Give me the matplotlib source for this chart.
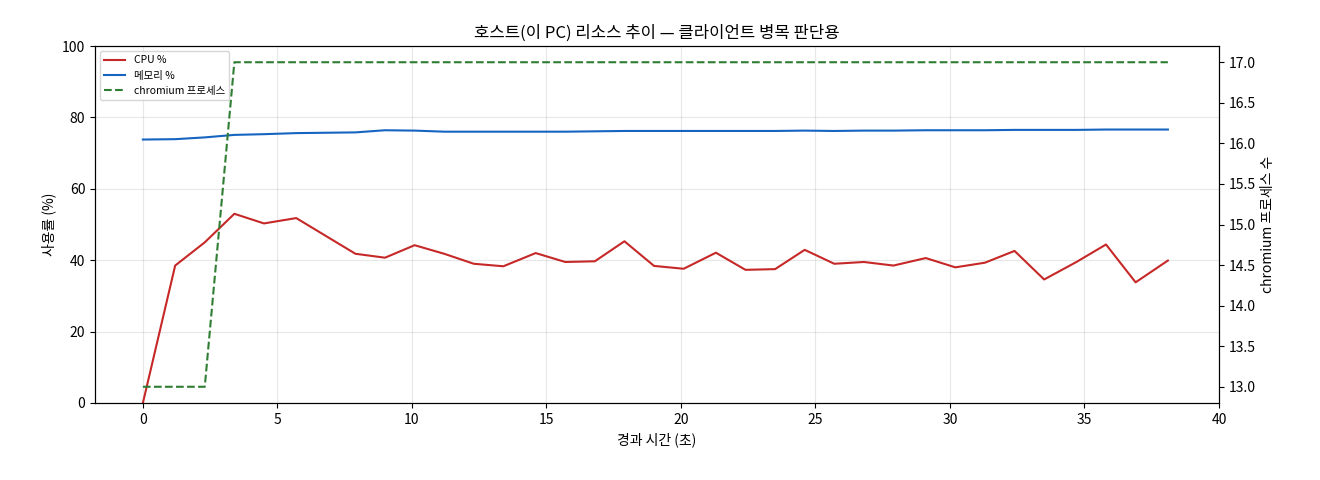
import matplotlib
matplotlib.use("Agg")
import matplotlib.pyplot as plt

plt.rcParams['font.family'] = ['Noto Sans CJK KR', 'DejaVu Sans']

t = [0, 1.2, 2.3, 3.4, 4.5, 5.7, 6.8, 7.9, 9.0, 10.1, 11.2, 12.3, 13.4, 14.6, 15.7, 16.8, 17.9,
     19.0, 20.1, 21.3, 22.4, 23.5, 24.6, 25.7, 26.8, 27.9, 29.1, 30.2, 31.3, 32.4, 33.5,
     34.7, 35.8, 36.9, 38.1]
cpu = [0, 38.5, 45, 53, 50.3, 51.8, 46.8, 41.8, 40.7, 44.2, 41.8, 39, 38.3, 42, 39.5, 39.7, 45.3,
       38.4, 37.6, 42.1, 37.3, 37.5, 42.9, 39, 39.5, 38.5, 40.6, 38, 39.3, 42.6, 34.6,
       39.5, 44.4, 33.8, 39.9]
mem = [73.8, 73.9, 74.4, 75.1, 75.3, 75.6, 75.7, 75.8, 76.4, 76.3, 76.0, 76.0, 76.0, 76.0, 76.0,
       76.1, 76.2, 76.2, 76.2, 76.2, 76.2, 76.2, 76.3, 76.2, 76.3, 76.3, 76.4, 76.4, 76.4, 76.5,
       76.5, 76.5, 76.6, 76.6, 76.6]
procs = [13, 13, 13] + [17] * 32

fig = plt.figure(figsize=(13.2, 4.8), dpi=100)
ax = fig.add_axes([95/1320, 1 - 403/480, (1219-95)/1320, (403-46)/480])
l1, = ax.plot(t, cpu, color='#c62828', lw=1.5, label='CPU %')
l2, = ax.plot(t, mem, color='#1565c0', lw=1.5, label='메모리 %')
ax.set_ylim(0, 100)
ax.set_xlim(-1.78, 40)
ax.grid(True, alpha=0.3)
ax.set_xlabel('경과 시간 (초)')
ax.set_ylabel('사용률 (%)')
ax.set_title('호스트(이 PC) 리소스 추이 — 클라이언트 병목 판단용')
ax2 = ax.twinx()
l3, = ax2.plot(t, procs, color='#2e7d32', lw=1.5, ls='--', label='chromium 프로세스')
ax2.set_ylim(12.8, 17.2)
ax2.set_ylabel('chromium 프로세스 수')
ax.legend(handles=[l1, l2, l3], loc='upper left', fontsize=7.5)
fig.savefig('out.png', dpi=100)
